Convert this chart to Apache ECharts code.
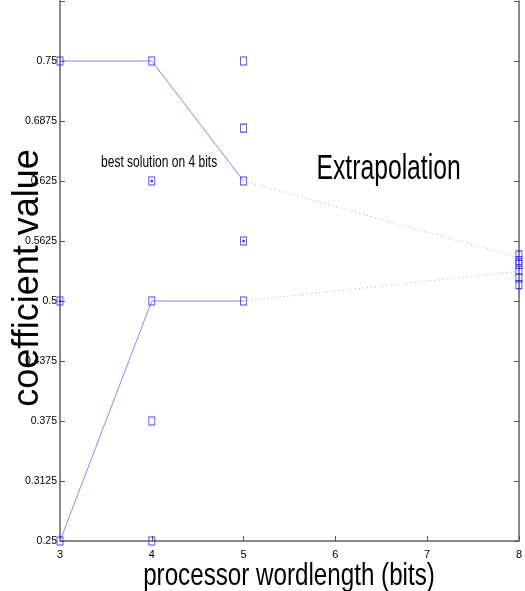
<!DOCTYPE html>
<html><head><meta charset="utf-8">
<script src="https://cdn.jsdelivr.net/npm/echarts@6/dist/echarts.min.js"></script>
<style>html,body{margin:0;padding:0;background:#fff}#c{width:525px;height:591px}</style>
</head><body><div id="c"></div>
<script>
const xTicks = [3, 4, 5, 6, 7, 8];
const yTicks = [0.25, 0.3125, 0.375, 0.4375, 0.5, 0.5625, 0.625, 0.6875, 0.75];
const solidX = [3, 4, 5];
const upperSolidY = [0.75, 0.75, 0.625];
const lowerSolidY = [0.25, 0.5, 0.5];
const extrapX = [5, 8];
const upperExtrapY = [0.625, 0.545];
const lowerExtrapY = [0.5, 0.531];
const candX = [3, 3, 3, 4, 4, 4, 4, 4, 5, 5, 5, 5, 5, 8, 8, 8, 8, 8, 8];
const candY = [0.75, 0.5, 0.25, 0.75, 0.625, 0.5, 0.375, 0.25, 0.75, 0.68, 0.625, 0.5625, 0.5, 0.548, 0.542, 0.538, 0.532, 0.524, 0.517];
const bestX = [3, 4, 5];
const bestY = [0.5, 0.625, 0.5625];

const zip = (xs, ys) => xs.map((x, i) => [x, ys[i]]);
const FONT = 'Liberation Sans';
const axisCol = '#888';
const chart = echarts.init(document.getElementById('c'), null, {renderer: 'canvas'});

const option = {
  animation: false,
  backgroundColor: '#fff',
  grid: {left: 60, right: 3, top: 1, bottom: 50},
  xAxis: {
    type: 'value', min: 3, max: 8, interval: 1,
    axisLine: {lineStyle: {color: axisCol, width: 2}},
    axisTick: {inside: true, length: 5, lineStyle: {color: '#555'}},
    splitLine: {show: false},
    axisLabel: {color: '#000', fontSize: 11, fontFamily: FONT, margin: 8,
      formatter: v => xTicks.includes(v) ? String(v) : ''}
  },
  yAxis: [{
    type: 'value', min: 0.25, max: 0.8125, interval: 0.0625,
    axisLine: {show: true, lineStyle: {color: axisCol, width: 2}},
    axisTick: {show: true, inside: true, length: 5, lineStyle: {color: '#555'}},
    splitLine: {show: false},
    axisLabel: {color: '#000', fontSize: 10.5, fontFamily: FONT, margin: 3,
      formatter: v => yTicks.includes(v) ? String(v) : ''}
  }, {
    type: 'value', position: 'right', min: 0.25, max: 0.8125, interval: 0.0625,
    axisLine: {show: true, lineStyle: {color: axisCol, width: 2}},
    axisTick: {show: true, inside: true, length: 5, lineStyle: {color: '#555'}},
    splitLine: {show: false},
    axisLabel: {show: false}
  }],
  series: [
    {type: 'line', data: zip(solidX, upperSolidY), showSymbol: false, lineStyle: {color: '#9480ff', width: 1}, z: 2},
    {type: 'line', data: zip(solidX, lowerSolidY), showSymbol: false, lineStyle: {color: '#9480ff', width: 1}, z: 2},
    {type: 'line', data: zip(extrapX, upperExtrapY), showSymbol: false, lineStyle: {color: '#a898ff', width: 1, type: [1, 3]}, z: 2},
    {type: 'line', data: zip(extrapX, lowerExtrapY), showSymbol: false, lineStyle: {color: '#a898ff', width: 1, type: [1, 3]}, z: 2},
    {type: 'scatter', data: zip(candX, candY), symbol: 'rect', symbolSize: [6, 8], clip: false,
      itemStyle: {color: 'rgba(0,0,0,0)', borderColor: '#1a1aff', borderWidth: 1}, z: 3},
    {type: 'scatter', data: zip(bestX, bestY), symbol: 'circle', symbolSize: 3, clip: false,
      itemStyle: {color: '#1a1aff'}, z: 4}
  ]
};
chart.setOption(option);

const pBest = chart.convertToPixel({gridIndex: 0}, [4.08, 0.644]);
const pExt = chart.convertToPixel({gridIndex: 0}, [6.58, 0.6365]);
chart.setOption({
  graphic: [
    {type: 'text', x: pBest[0], y: pBest[1], scaleY: 1.35,
      style: {text: 'best solution on 4 bits', fontSize: 12, fontFamily: FONT, fill: '#000', align: 'center', verticalAlign: 'middle'}},
    {type: 'text', x: pExt[0], y: pExt[1], scaleY: 1.4,
      style: {text: 'Extrapolation', fontSize: 24.7, fontFamily: FONT, fill: '#000', align: 'center', verticalAlign: 'middle'}},
    {type: 'text', x: 289, y: 576, scaleY: 1.3,
      style: {text: 'processor wordlength (bits)', fontSize: 24.2, fontFamily: FONT, fill: '#000', align: 'center', verticalAlign: 'middle'}},
    {type: 'text', x: 28, y: 278, rotation: Math.PI / 2,
      style: {text: 'coefficient value', fontSize: 36, fontFamily: FONT, fill: '#000', align: 'center', verticalAlign: 'middle'}}
  ]
});
</script></body></html>
